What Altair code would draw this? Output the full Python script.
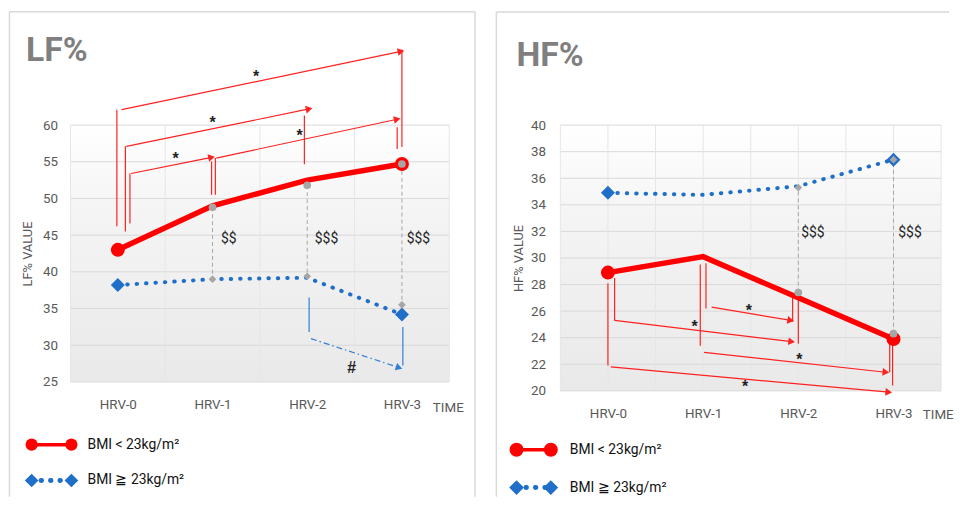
import json
import math
import altair as alt
import pandas as pd

# ---------------- data ----------------
TIMES = ["HRV-0", "HRV-1", "HRV-2", "HRV-3"]
T = [0, 1, 2, 3]

LF_LOW = [43.0, 49.0, 52.5, 54.7]          # BMI < 23
LF_HIGH = [38.2, 39.0, 39.2, 34.2]         # BMI >= 23
LF_LOW_GRAY = [None, 48.8, 51.8, 54.7]
LF_HIGH_GRAY = [None, 39.0, 39.4, 35.5]
LF_SIG = ["", "$$", "$$$", "$$$"]
LF_TICKS = [25, 30, 35, 40, 45, 50, 55, 60]

HF_LOW = [28.9, 30.1, 27.0, 23.9]
HF_HIGH = [34.9, 34.75, 35.4, 37.4]
HF_LOW_GRAY = [None, None, 27.4, 24.3]
HF_HIGH_GRAY = [None, None, 35.3, 37.4]
HF_SIG = ["", "", "$$$", "$$$"]
HF_TICKS = [20, 22, 24, 26, 28, 30, 32, 34, 36, 38, 40]

LEGEND_LOW = "BMI < 23kg/m²"
LEGEND_HIGH = "BMI ≧ 23kg/m²"

# significance brackets: left vertical (x, y_from, y_to), arrow (x0, y0, x1, y1),
# right vertical (x, y_from, y_to), label (x, y, text)
LF_BRACKETS = [
    dict(left=(-0.01, 46.2, 62.1), arrow=(0.04, 62.1, 2.99, 70.05), right=(3.0, 70.3, 57.0), mark=(1.46, 67.1, "*"), color="#ff2020", style="solid"),
    dict(left=(0.08, 45.5, 57.1), arrow=(0.09, 57.1, 2.02, 62.2), right=(1.97, 61.3, 54.65), mark=(1.0, 60.8, "*"), color="#ff2020", style="solid"),
    dict(left=(0.128, 46.6, 53.4), arrow=(0.14, 53.4, 0.99, 55.6), right=(0.99, 55.05, 50.5), mark=(0.61, 55.9, "*"), color="#ff2020", style="solid"),
    dict(left=(1.03, 50.5, 55.5), arrow=(1.04, 55.5, 2.95, 60.8), right=(2.95, 59.7, 56.75), mark=(1.92, 59.1, "*"), color="#ff2020", style="solid"),
    dict(left=(2.02, 36.5, 31.8), arrow=(2.04, 30.9, 2.97, 26.95), right=(3.01, 32.5, 27.25), mark=(2.47, 27.5, "#"), color="#2f7fd6", style="dashdot"),
]
HF_BRACKETS = [
    dict(left=(1.03, 29.6, 26.2), arrow=(1.09, 26.3, 1.92, 25.3), right=(1.94, 27.0, 25.2), mark=(1.48, 26.3, "*"), color="#ff2020", style="solid"),
    dict(left=(0.07, 28.5, 25.3), arrow=(0.07, 25.3, 1.93, 23.7), right=(2.0, 27.3, 23.55), mark=(0.91, 25.1, "*"), color="#ff2020", style="solid"),
    dict(left=(0.97, 29.5, 23.4), arrow=(1.01, 22.9, 2.92, 21.4), right=(2.96, 24.0, 21.4), mark=(2.01, 22.6, "*"), color="#ff2020", style="solid"),
    dict(left=(0.0, 28.1, 21.9), arrow=(0.03, 21.8, 2.95, 19.9), right=(2.99, 23.8, 20.4), mark=(1.44, 20.55, "*"), color="#ff2020", style="solid"),
]

# ---------------- style ----------------
FONT = "Roboto"
RED = "#ff0000"
BLUE = "#1f6fc8"
GRAY = "#a6a6a6"
TXT = "#595959"
GRID = "#d9d9d9"

LF_CFG = dict(
    name="LF%", W=382, H=259, ydom=(25, 60), yticks=LF_TICKS, ytitle="LF% VALUE",
    low=LF_LOW, high=LF_HIGH, low_gray=LF_LOW_GRAY, high_gray=LF_HIGH_GRAY,
    sig=LF_SIG, sig_dx=[0.0, 0.09, 0.08, 0.05], sig_y=44.5, brackets=LF_BRACKETS,
    box=(-1.144, 3.772, 9.35, 75.43), borders=("left", "top", "right"),
    title_pos=(-0.97, 68.74), time_pos=(3.49, 21.45),
    vgrid=[-0.5, 0.5, 1.5, 2.5, 3.5],
    leg=dict(x0=-0.91, x1=-0.49, tx=-0.32, y_low=16.45, y_high=11.57, csize=150, dsize=190),
    lpad=13, tpad=8,
)
HF_CFG = dict(
    name="HF%", W=384, H=268, ydom=(20, 40), yticks=HF_TICKS, ytitle="HF% VALUE",
    low=HF_LOW, high=HF_HIGH, low_gray=HF_LOW_GRAY, high_gray=HF_HIGH_GRAY,
    sig=HF_SIG, sig_dx=[0.0, 0.0, 0.03, 0.05], sig_y=31.9, brackets=HF_BRACKETS,
    box=(-1.172, 3.583, 12.03, 48.52), borders=("left", "top"),
    title_pos=(-0.96, 44.46), time_pos=(3.47, 18.19),
    vgrid=[-0.5, 0.0, 0.5, 1.0, 1.5, 2.0, 2.5, 3.0, 3.5],
    leg=dict(x0=-0.96, x1=-0.60, tx=-0.40, y_low=15.57, y_high=12.72, csize=200, dsize=220),
    lpad=15, tpad=5,
)

LABEL_EXPR = json.dumps(TIMES) + "[datum.value]"


def panel(c):
    W, H = c["W"], c["H"]
    ymin, ymax = c["ydom"]
    kx = W / 4.0
    ky = H / float(ymax - ymin)

    xs = alt.Scale(domain=[-0.5, 3.5], nice=False, zero=False)
    ys = alt.Scale(domain=[ymin, ymax], nice=False, zero=False)
    xaxis = alt.Axis(values=T, labelExpr=LABEL_EXPR, domain=False, ticks=False, grid=False, zindex=1,
                     labelPadding=16, labelFontSize=13.5, labelColor=TXT, labelFont=FONT, title=None)
    yaxis = alt.Axis(values=c["yticks"], domain=False, ticks=False, grid=False, zindex=1,
                     labelPadding=c["lpad"], labelFontSize=13.5, labelColor=TXT, labelFont=FONT,
                     title=c["ytitle"], titleFontSize=13, titleFontWeight="normal",
                     titleColor=TXT, titleFont=FONT, titlePadding=c["tpad"])
    X = alt.X("x:Q", scale=xs, axis=xaxis)
    Y = alt.Y("y:Q", scale=ys, axis=yaxis)
    X2 = alt.X2("x2:Q")
    Y2 = alt.Y2("y2:Q")

    layers = []
    bx0, bx1, by0, by1 = c["box"]
    box = pd.DataFrame([dict(x=bx0, x2=bx1, y=by0, y2=by1)])
    layers.append(alt.Chart(box).mark_rect(fill="white").encode(x=X, x2=X2, y=Y, y2=Y2))
    sides = dict(left=(bx0, by0, bx0, by1), top=(bx0, by1, bx1, by1), right=(bx1, by0, bx1, by1), bottom=(bx0, by0, bx1, by0))
    bd = pd.DataFrame([dict(x=sides[s][0], y=sides[s][1], x2=sides[s][2], y2=sides[s][3]) for s in c["borders"]])
    layers.append(alt.Chart(bd).mark_rule(color=GRID, strokeWidth=1.5).encode(x=X, x2=X2, y=Y, y2=Y2))

    bg = pd.DataFrame([dict(x=-0.5, x2=3.5, y=ymin, y2=ymax)])
    grad = alt.Gradient(gradient="linear", x1=0, x2=0, y1=0, y2=1,
                        stops=[alt.GradientStop(color="#ffffff", offset=0),
                               alt.GradientStop(color="#f4f4f4", offset=0.35),
                               alt.GradientStop(color="#e9e9e9", offset=1)])
    layers.append(alt.Chart(bg).mark_rect(fill=grad).encode(x=X, x2=X2, y=Y, y2=Y2))

    hg = pd.DataFrame([dict(x=-0.5, x2=3.5, y=v, y2=v) for v in c["yticks"]])
    vg = pd.DataFrame([dict(x=v, x2=v, y=ymin, y2=ymax) for v in c["vgrid"]])
    layers.append(alt.Chart(hg).mark_rule(color=GRID, strokeWidth=1).encode(x=X, x2=X2, y=Y, y2=Y2))
    layers.append(alt.Chart(vg).mark_rule(color="#e6e6e6", strokeWidth=1).encode(x=X, x2=X2, y=Y, y2=Y2))

    # gray dashed connectors
    gd = pd.DataFrame([dict(x=t, x2=t, y=a, y2=b) for t, a, b in zip(T, c["low_gray"], c["high_gray"]) if a is not None])
    layers.append(alt.Chart(gd).mark_rule(color=GRAY, strokeWidth=1, strokeDash=[4, 3]).encode(x=X, x2=X2, y=Y, y2=Y2))

    # brackets
    solid, dashdot, heads, marks = [], [], [], []
    for b in c["brackets"]:
        col = b["color"]
        for seg in (b["left"], b["right"]):
            solid.append(dict(x=seg[0], x2=seg[0], y=seg[1], y2=seg[2], c=col))
        x0, y0, x1, y1 = b["arrow"]
        row = dict(x=x0, x2=x1, y=y0, y2=y1, c=col)
        (dashdot if b["style"] == "dashdot" else solid).append(row)
        ang = math.degrees(math.atan2(-(y1 - y0) * ky, (x1 - x0) * kx)) % 360
        heads.append(dict(x=x1, y=y1, angle=ang, c=col))
        marks.append(dict(x=b["mark"][0], y=b["mark"][1], t=b["mark"][2]))
    C = alt.Color("c:N", scale=None)
    layers.append(alt.Chart(pd.DataFrame(solid)).mark_rule(strokeWidth=1.2).encode(x=X, x2=X2, y=Y, y2=Y2, color=C))
    if dashdot:
        layers.append(alt.Chart(pd.DataFrame(dashdot)).mark_rule(strokeWidth=1.2, strokeDash=[6, 3, 1.5, 3]).encode(x=X, x2=X2, y=Y, y2=Y2, color=C))
    layers.append(alt.Chart(pd.DataFrame(heads)).mark_point(shape="triangle-right", filled=True, size=60, opacity=1).encode(
        x=X, y=Y, color=C, angle=alt.Angle("angle:Q", scale=None)))

    # series lines
    hi = pd.DataFrame(dict(x=T, y=c["high"]))
    lo = pd.DataFrame(dict(x=T, y=c["low"]))
    layers.append(alt.Chart(hi).mark_line(color=BLUE, strokeWidth=4, strokeDash=[0.5, 9], strokeCap="round").encode(x=X, y=Y))
    layers.append(alt.Chart(lo).mark_line(color=RED, strokeWidth=5.5, strokeCap="round").encode(x=X, y=Y))

    ends = [0, 3]
    hi_end = hi[hi["x"].isin(ends)]
    lo_end = lo[lo["x"].isin(ends)]
    layers.append(alt.Chart(hi_end).mark_point(shape="diamond", filled=True, size=200, color=BLUE, opacity=1).encode(x=X, y=Y))
    layers.append(alt.Chart(lo_end).mark_circle(size=200, color=RED, opacity=1).encode(x=X, y=Y))

    hg_pts = pd.DataFrame([dict(x=t, y=v) for t, v in zip(T, c["high_gray"]) if v is not None])
    lg_pts = pd.DataFrame([dict(x=t, y=v) for t, v in zip(T, c["low_gray"]) if v is not None])
    layers.append(alt.Chart(hg_pts).mark_point(shape="diamond", filled=True, size=60, color=GRAY, opacity=1).encode(x=X, y=Y))
    layers.append(alt.Chart(lg_pts).mark_circle(size=60, color=GRAY, opacity=1).encode(x=X, y=Y))

    # text annotations
    sig = pd.DataFrame([dict(x=t + dx, y=c["sig_y"], t=s) for t, dx, s in zip(T, c["sig_dx"], c["sig"]) if s])
    layers.append(alt.Chart(sig).mark_text(font=FONT, fontSize=14, color="#222222", align="left", baseline="middle").encode(x=X, y=Y, text="t:N"))
    layers.append(alt.Chart(pd.DataFrame(marks)).mark_text(font="Liberation Sans", fontSize=16, fontWeight="bold", color="#222222", align="center", baseline="middle", dy=4).encode(x=X, y=Y, text="t:N"))

    ttl = pd.DataFrame([dict(x=c["title_pos"][0], y=c["title_pos"][1], t=c["name"])])
    layers.append(alt.Chart(ttl).mark_text(font=FONT, fontSize=34, fontWeight="bold", color="#7f7f7f", align="left", baseline="alphabetic").encode(x=X, y=Y, text="t:N"))
    tm = pd.DataFrame([dict(x=c["time_pos"][0], y=c["time_pos"][1], t="TIME")])
    layers.append(alt.Chart(tm).mark_text(font=FONT, fontSize=13.5, color=TXT, align="center", baseline="middle").encode(x=X, y=Y, text="t:N"))

    # legend
    L = c["leg"]
    lr = pd.DataFrame([dict(x=L["x0"], x2=L["x1"], y=L["y_low"], y2=L["y_low"])])
    lb = pd.DataFrame([dict(x=L["x0"], x2=L["x1"], y=L["y_high"], y2=L["y_high"])])
    layers.append(alt.Chart(lr).mark_rule(color=RED, strokeWidth=3.5).encode(x=X, x2=X2, y=Y, y2=Y2))
    layers.append(alt.Chart(lb).mark_rule(color=BLUE, strokeWidth=5, strokeDash=[0.5, 9], strokeCap="round").encode(x=X, x2=X2, y=Y, y2=Y2))
    lc = pd.DataFrame([dict(x=L["x0"], y=L["y_low"]), dict(x=L["x1"], y=L["y_low"])])
    ld = pd.DataFrame([dict(x=L["x0"], y=L["y_high"]), dict(x=L["x1"], y=L["y_high"])])
    layers.append(alt.Chart(lc).mark_circle(size=L["csize"], color=RED, opacity=1).encode(x=X, y=Y))
    layers.append(alt.Chart(ld).mark_point(shape="diamond", filled=True, size=L["dsize"], color=BLUE, opacity=1).encode(x=X, y=Y))
    lt = pd.DataFrame([dict(x=L["tx"], y=L["y_low"], t=LEGEND_LOW), dict(x=L["tx"], y=L["y_high"], t=LEGEND_HIGH)])
    layers.append(alt.Chart(lt).mark_text(font=FONT, fontSize=14, color="#111111", align="left", baseline="middle").encode(x=X, y=Y, text="t:N"))

    return alt.layer(*layers).properties(width=W, height=H)


chart = alt.hconcat(panel(LF_CFG), panel(HF_CFG), spacing=18, padding=0).configure_view(stroke=None).configure(background="white")
chart.save("out.html", embed_options={"renderer": "svg", "actions": False})
